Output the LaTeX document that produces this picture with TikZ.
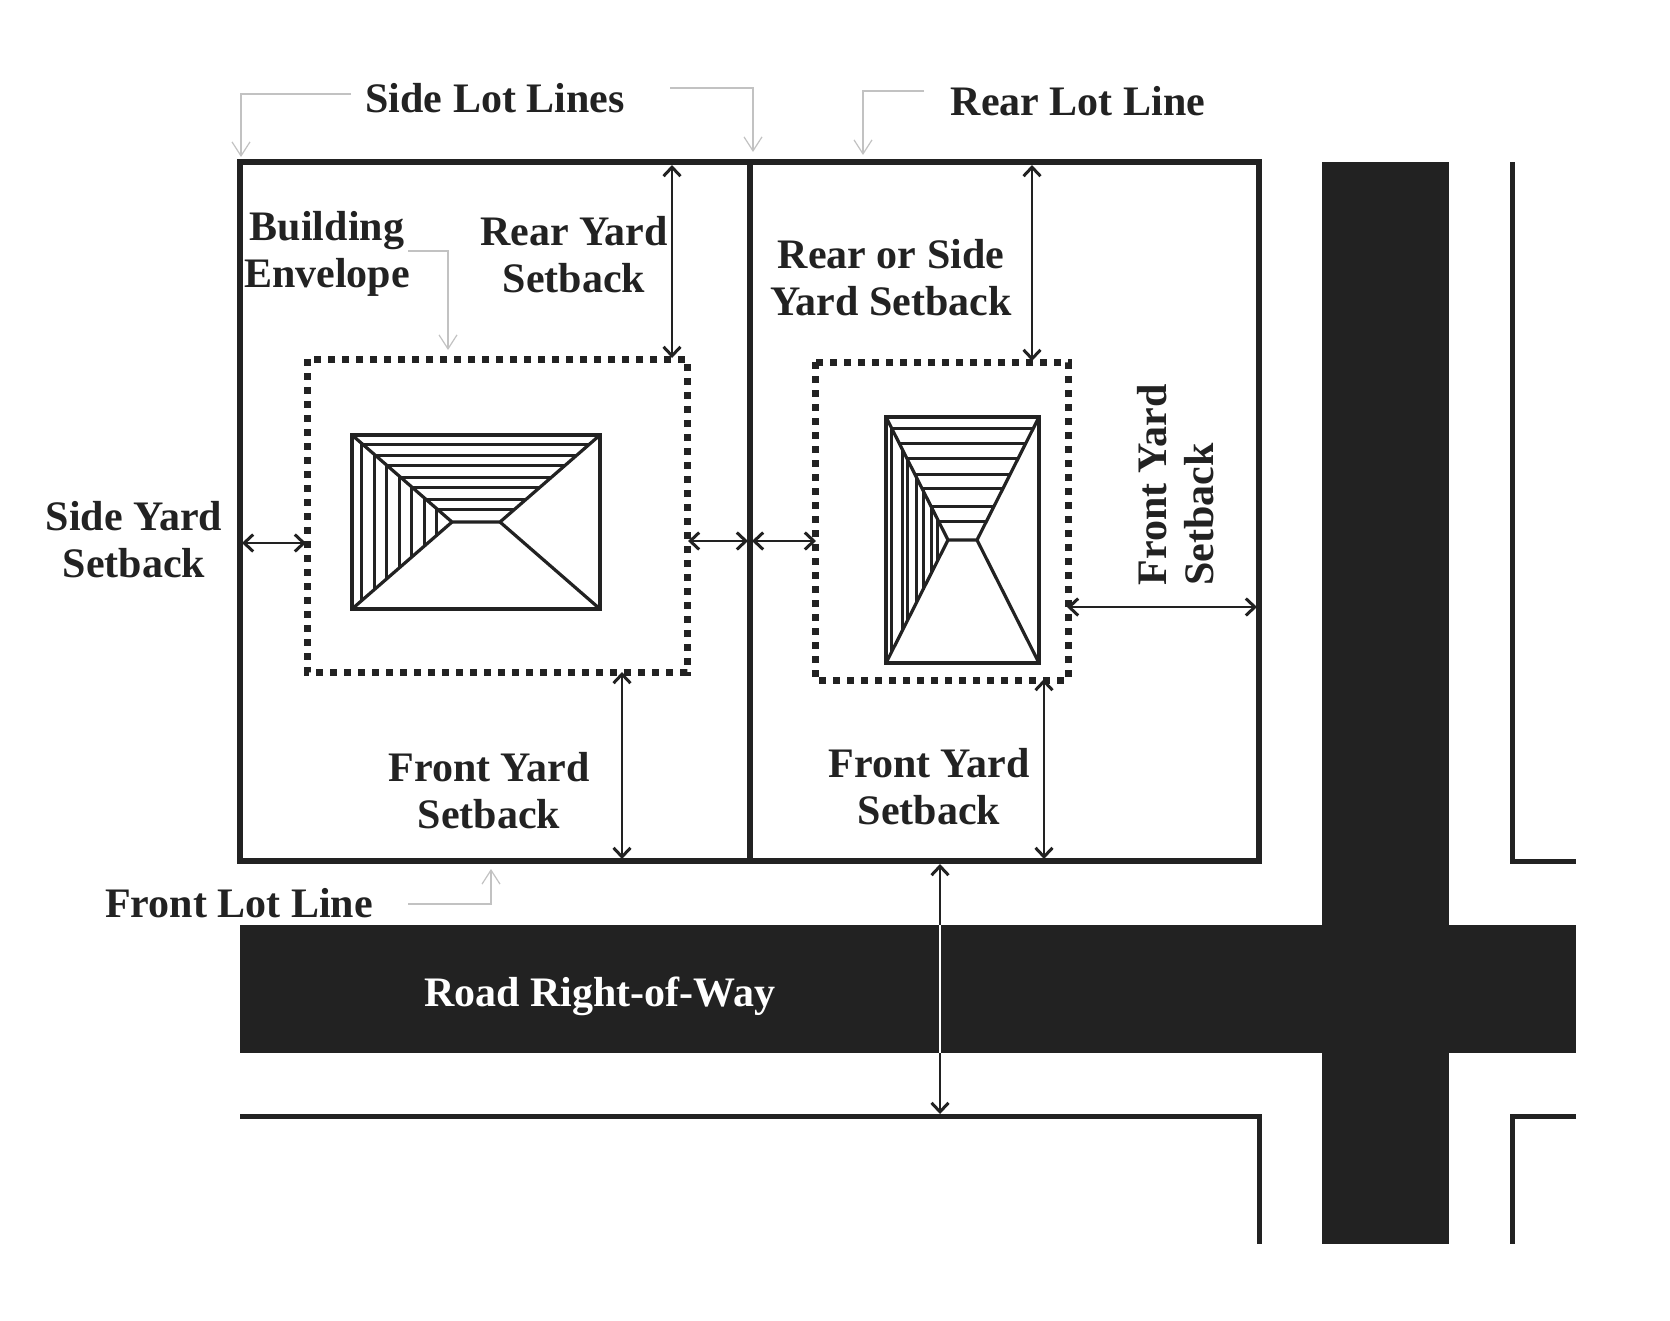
\documentclass[tikz,border=0pt]{standalone}
\usepackage{fontspec}
\setmainfont{Liberation Serif}
\usetikzlibrary{arrows.meta}
\definecolor{ink}{HTML}{222222}
\definecolor{leader}{HTML}{C2C2C2}
\tikzset{
  lotline/.style={draw=ink,line width=5.5pt,line cap=rect,line join=miter},
  roadfill/.style={fill=ink,draw=none},
  envelope/.style={draw=ink,line width=7pt,dash pattern=on 7pt off 7pt},
  houseline/.style={draw=ink,line width=3.2pt},
  hatch/.style={draw=ink,line width=3pt},
  dim/.style={draw=ink,line width=2.2pt,{Straight Barb[length=9pt,width=17pt,line width=3pt]}-{Straight Barb[length=9pt,width=17pt,line width=3pt]}},
  dimhalfa/.style={draw=ink,line width=2.2pt,{Straight Barb[length=9pt,width=17pt,line width=3pt]}-},
  dimhalfb/.style={draw=ink,line width=2.2pt,-{Straight Barb[length=9pt,width=17pt,line width=3pt]}},
  lead/.style={draw=leader,line width=1.3pt,line join=miter,-{Straight Barb[length=14pt,width=18pt,line width=1.2pt]}},
  lab/.style={font=\fontsize{42}{47}\selectfont\bfseries,text=ink,align=center,inner sep=0pt},
}
\begin{document}
\begin{tikzpicture}[x=1pt,y=-1pt]
\useasboundingbox (0,0) rectangle (1670,1320);
\fill[white] (0,0) rectangle (1670,1320);
% roads
\path[roadfill] (240,925) rectangle (1576,1053);
\path[roadfill] (1322,162) rectangle (1449,1244);
% lots
\draw[lotline] (240,162) rectangle (1259,861);
\draw[lotline] (750,162) -- (750,861);
\draw[draw=ink,line width=5pt] (240,1116) -- (1259,1116) -- (1259,1244);
\draw[draw=ink,line width=5pt] (1512,162) -- (1512,861) -- (1576,861);
\draw[draw=ink,line width=5pt] (1576,1116) -- (1512,1116) -- (1512,1244);
% envelopes
\draw[envelope] (307,359) rectangle (687,672);
\draw[envelope] (815,362) rectangle (1068,680);
% house 1
\draw[houseline] (352,435) rectangle (600,609);
\draw[houseline] (352,435) -- (452,522) -- (500,522) -- (600,435);
\draw[houseline] (352,609) -- (452,522);
\draw[houseline] (500,522) -- (600,609);
\foreach \yy in {444,455,465,477,487,499,509}{
  \pgfmathsetmacro{\xa}{352+(\yy-435)*100/87}
  \pgfmathsetmacro{\xb}{600-(\yy-435)*100/87}
  \draw[hatch] (\xa,\yy) -- (\xb,\yy);
}
\foreach \xx in {361,374,386,399,411,424,436}{
  \pgfmathsetmacro{\ya}{435+(\xx-352)*87/100}
  \pgfmathsetmacro{\yb}{609-(\xx-352)*87/100}
  \draw[hatch] (\xx,\ya) -- (\xx,\yb);
}
% house 2
\draw[houseline] (886,417) rectangle (1039,663);
\draw[houseline] (886,417) -- (948,540) -- (977,540) -- (1039,417);
\draw[houseline] (886,663) -- (948,540);
\draw[houseline] (977,540) -- (1039,663);
\foreach \yy in {428,443,458,474,488,506,521}{
  \pgfmathsetmacro{\xa}{886+(\yy-417)*62/123}
  \pgfmathsetmacro{\xb}{1039-(\yy-417)*62/123}
  \draw[hatch] (\xa,\yy) -- (\xb,\yy);
}
\foreach \xx in {891,902,907,916,923,931,937}{
  \pgfmathsetmacro{\ya}{417+(\xx-886)*123/62}
  \pgfmathsetmacro{\yb}{663-(\xx-886)*123/62}
  \draw[hatch] (\xx,\ya) -- (\xx,\yb);
}
% labels
\node[lab] (sidelot) at (495,98) {Side Lot Lines};
\node[lab] (rearlot) at (1078,101) {Rear Lot Line};
\node[lab] (buildenv) at (327,254) {Building\\Envelope};
\node[lab] (rearyard) at (574,255) {Rear Yard\\Setback};
\node[lab] (rearside) at (891,278) {Rear or Side\\Yard Setback};
\node[lab] (sideyard) at (134,540) {Side Yard\\Setback};
\node[lab] (frontyarda) at (489,791) {Front Yard\\Setback};
\node[lab] (frontyardb) at (929,787) {Front Yard\\Setback};
\node[lab,rotate=90,align=left] (frontyardc) at (1176,485) {Front Yard\\Setback};
\node[lab] (frontlot) at (239,903) {Front Lot Line};
\node[lab,text=white] (roadrow) at (600,996) {Road Right-of-Way};
% dimension anchors
\coordinate (sa) at (242,543); \coordinate (sb) at (306,543);
\coordinate (ma) at (688,541); \coordinate (mb) at (748,541);
\coordinate (mc) at (752,541); \coordinate (md) at (816,541);
\coordinate (ra) at (672,165); \coordinate (rb) at (672,358);
\coordinate (rc) at (1032,165); \coordinate (rd) at (1032,361);
\coordinate (fa) at (622,672); \coordinate (fb) at (622,859);
\coordinate (fc) at (1044,679); \coordinate (fd) at (1044,859);
\coordinate (ga) at (1067,607); \coordinate (gb) at (1257,607);
\coordinate (wa) at (940,864); \coordinate (wb) at (940,925);
\coordinate (wc) at (940,1053); \coordinate (wd) at (940,1114);
\draw[dim] (sa) -- (sb);
\draw[dim] (ma) -- (mb);
\draw[dim] (mc) -- (md);
\draw[dim] (ra) -- (rb);
\draw[dim] (rc) -- (rd);
\draw[dim] (fa) -- (fb);
\draw[dim] (fc) -- (fd);
\draw[dim] (ga) -- (gb);
\draw[dimhalfa] (wa) -- (wb);
\draw[draw=white,line width=2.5pt] (wb) -- (wc);
\draw[dimhalfb] (wc) -- (wd);
% leaders
\coordinate (la) at (351,94); \coordinate (lb) at (241,94); \coordinate (lc) at (241,157);
\coordinate (ld) at (670,88); \coordinate (le) at (753,88); \coordinate (lf) at (753,152);
\coordinate (lg) at (924,91); \coordinate (lh) at (863,91); \coordinate (li) at (863,155);
\coordinate (lj) at (408,251); \coordinate (lk) at (448,251); \coordinate (ll) at (448,350);
\coordinate (lm) at (408,904); \coordinate (ln) at (491,904); \coordinate (lo) at (491,869);
\draw[lead] (la) -- (lb) -- (lc);
\draw[lead] (ld) -- (le) -- (lf);
\draw[lead] (lg) -- (lh) -- (li);
\draw[lead] (lj) -- (lk) -- (ll);
\draw[lead] (lm) -- (ln) -- (lo);
\end{tikzpicture}
\end{document}
